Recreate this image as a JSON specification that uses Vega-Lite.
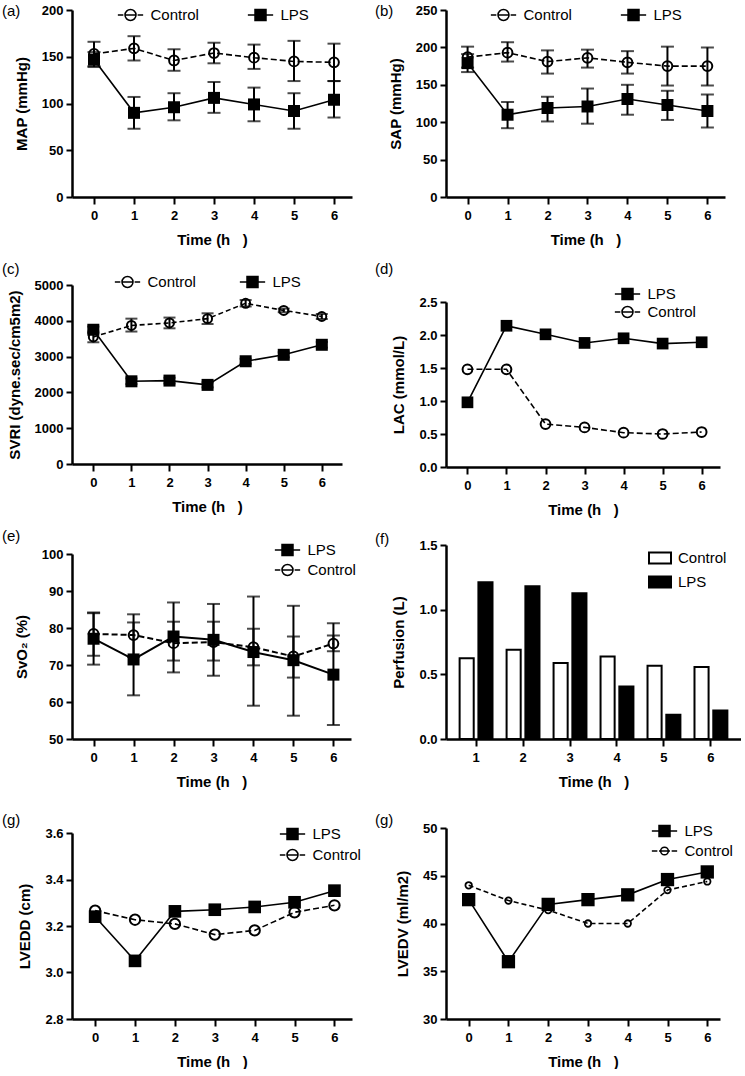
{
  "$schema": "https://vega.github.io/schema/vega-lite/v6.json",
  "padding": {"left": 2, "top": 4, "right": 0, "bottom": 0},
  "background": "white",
  "config": {
    "font": "Liberation Sans",
    "view": {"stroke": null},
    "axis": {"domainColor": "black", "domainWidth": 2.5, "tickColor": "black", "tickWidth": 2, "tickSize": 6, "labelFont": "Liberation Sans", "labelFontSize": 13, "labelFontWeight": "bold", "labelColor": "black", "titleFont": "Liberation Sans", "titleFontSize": 15, "titleFontWeight": "bold", "titleColor": "black", "grid": false, "labelPadding": 3, "titlePadding": 12},
    "axisX": {"labelAngle": 0, "tickSize": 7, "labelPadding": 5, "titlePadding": 10},
    "legend": {"labelFont": "Liberation Sans", "labelFontSize": 15, "labelColor": "black", "padding": 0, "symbolSize": 121, "labelOffset": 12.5, "symbolStrokeColor": "black", "symbolStrokeWidth": 1.5, "symbolOpacity": 1, "rowPadding": 3, "columnPadding": 50},
    "title": {"font": "Liberation Sans", "fontSize": 15, "fontWeight": "normal", "color": "black", "anchor": "start", "frame": "group", "offset": 0, "baseline": "alphabetic"}
  },
  "datasets": {
    "a": [
      {"t":0,"group":"Control","v":153,"lo":140,"hi":166},{"t":1,"group":"Control","v":159,"lo":146,"hi":172},{"t":2,"group":"Control","v":146,"lo":135,"hi":158},{"t":3,"group":"Control","v":154,"lo":143,"hi":165},{"t":4,"group":"Control","v":149,"lo":137,"hi":163},{"t":5,"group":"Control","v":145,"lo":124,"hi":167},{"t":6,"group":"Control","v":144,"lo":124,"hi":164},
      {"t":0,"group":"LPS","v":147,"lo":139,"hi":155},{"t":1,"group":"LPS","v":90,"lo":73,"hi":107},{"t":2,"group":"LPS","v":96,"lo":82,"hi":111},{"t":3,"group":"LPS","v":106,"lo":90,"hi":123},{"t":4,"group":"LPS","v":99,"lo":81,"hi":117},{"t":5,"group":"LPS","v":92,"lo":73,"hi":111},{"t":6,"group":"LPS","v":104,"lo":85,"hi":124}
    ],
    "b": [
      {"t":0,"group":"Control","v":187,"lo":173,"hi":201},{"t":1,"group":"Control","v":193,"lo":181,"hi":207},{"t":2,"group":"Control","v":181,"lo":165,"hi":196},{"t":3,"group":"Control","v":186,"lo":173,"hi":197},{"t":4,"group":"Control","v":180,"lo":165,"hi":195},{"t":5,"group":"Control","v":175,"lo":149,"hi":201},{"t":6,"group":"Control","v":175,"lo":149,"hi":200},
      {"t":0,"group":"LPS","v":179,"lo":167,"hi":191},{"t":1,"group":"LPS","v":110,"lo":92,"hi":127},{"t":2,"group":"LPS","v":119,"lo":101,"hi":134},{"t":3,"group":"LPS","v":121,"lo":98,"hi":145},{"t":4,"group":"LPS","v":131,"lo":110,"hi":150},{"t":5,"group":"LPS","v":123,"lo":103,"hi":142},{"t":6,"group":"LPS","v":115,"lo":93,"hi":137}
    ],
    "c": [
      {"t":0,"group":"Control","v":3550,"lo":3400,"hi":3700},{"t":1,"group":"Control","v":3870,"lo":3700,"hi":4060},{"t":2,"group":"Control","v":3940,"lo":3790,"hi":4090},{"t":3,"group":"Control","v":4060,"lo":3910,"hi":4210},{"t":4,"group":"Control","v":4490,"lo":4400,"hi":4580},{"t":5,"group":"Control","v":4290,"lo":4240,"hi":4340},{"t":6,"group":"Control","v":4120,"lo":4050,"hi":4190},
      {"t":0,"group":"LPS","v":3750,"lo":3660,"hi":3840},{"t":1,"group":"LPS","v":2310,"lo":2230,"hi":2390},{"t":2,"group":"LPS","v":2330,"lo":2250,"hi":2410},{"t":3,"group":"LPS","v":2210,"lo":2140,"hi":2280},{"t":4,"group":"LPS","v":2870,"lo":2800,"hi":2940},{"t":5,"group":"LPS","v":3050,"lo":2980,"hi":3120},{"t":6,"group":"LPS","v":3330,"lo":3250,"hi":3410}
    ],
    "d": [
      {"t":0,"group":"LPS","v":0.98},{"t":1,"group":"LPS","v":2.14},{"t":2,"group":"LPS","v":2.01},{"t":3,"group":"LPS","v":1.88},{"t":4,"group":"LPS","v":1.95},{"t":5,"group":"LPS","v":1.87},{"t":6,"group":"LPS","v":1.89},
      {"t":0,"group":"Control","v":1.48},{"t":1,"group":"Control","v":1.48},{"t":2,"group":"Control","v":0.65},{"t":3,"group":"Control","v":0.6},{"t":4,"group":"Control","v":0.52},{"t":5,"group":"Control","v":0.5},{"t":6,"group":"Control","v":0.53}
    ],
    "e": [
      {"t":0,"group":"LPS","v":77.1,"lo":70.1,"hi":84.2},{"t":1,"group":"LPS","v":71.5,"lo":61.8,"hi":81.5},{"t":2,"group":"LPS","v":77.7,"lo":68,"hi":86.9},{"t":3,"group":"LPS","v":76.8,"lo":67.1,"hi":86.5},{"t":4,"group":"LPS","v":73.5,"lo":59,"hi":88.5},{"t":5,"group":"LPS","v":71.3,"lo":56.3,"hi":86},{"t":6,"group":"LPS","v":67.4,"lo":53.8,"hi":81.3},
      {"t":0,"group":"Control","v":78.4,"lo":72.5,"hi":84},{"t":1,"group":"Control","v":78.1,"lo":72.2,"hi":83.7},{"t":2,"group":"Control","v":75.9,"lo":71.2,"hi":81.7},{"t":3,"group":"Control","v":76.2,"lo":71.2,"hi":81.7},{"t":4,"group":"Control","v":74.8,"lo":69.9,"hi":79.8},{"t":5,"group":"Control","v":72.3,"lo":66.6,"hi":77.7},{"t":6,"group":"Control","v":75.8,"lo":73.7,"hi":78}
    ],
    "f": [
      {"t":1,"group":"Control","v":0.625},{"t":2,"group":"Control","v":0.69},{"t":3,"group":"Control","v":0.587},{"t":4,"group":"Control","v":0.638},{"t":5,"group":"Control","v":0.566},{"t":6,"group":"Control","v":0.556},
      {"t":1,"group":"LPS","v":1.212},{"t":2,"group":"LPS","v":1.181},{"t":3,"group":"LPS","v":1.127},{"t":4,"group":"LPS","v":0.406},{"t":5,"group":"LPS","v":0.188},{"t":6,"group":"LPS","v":0.221}
    ],
    "g1": [
      {"t":0,"group":"LPS","v":3.24},{"t":1,"group":"LPS","v":3.05},{"t":2,"group":"LPS","v":3.263},{"t":3,"group":"LPS","v":3.27},{"t":4,"group":"LPS","v":3.282},{"t":5,"group":"LPS","v":3.302},{"t":6,"group":"LPS","v":3.352},
      {"t":0,"group":"Control","v":3.266},{"t":1,"group":"Control","v":3.227},{"t":2,"group":"Control","v":3.209},{"t":3,"group":"Control","v":3.163},{"t":4,"group":"Control","v":3.181},{"t":5,"group":"Control","v":3.259},{"t":6,"group":"Control","v":3.289}
    ],
    "g2": [
      {"t":0,"group":"LPS","v":42.5},{"t":1,"group":"LPS","v":36.0},{"t":2,"group":"LPS","v":42.0},{"t":3,"group":"LPS","v":42.5},{"t":4,"group":"LPS","v":43.0},{"t":5,"group":"LPS","v":44.6},{"t":6,"group":"LPS","v":45.4},
      {"t":0,"group":"Control","v":44.0},{"t":1,"group":"Control","v":42.4},{"t":2,"group":"Control","v":41.4},{"t":3,"group":"Control","v":40.0},{"t":4,"group":"Control","v":40.0},{"t":5,"group":"Control","v":43.5},{"t":6,"group":"Control","v":44.4}
    ]
  },
  "resolve": {"scale": {"shape": "independent", "fill": "independent"}},
  "hconcat": [
    {
      "spacing": 24,
      "resolve": {"scale": {"shape": "independent", "fill": "independent"}},
      "vconcat": [
        {
          "spacing": 15,
          "resolve": {"scale": {"shape": "independent", "fill": "independent"}},
          "vconcat": [
            {
              "width": 280, "height": 187,
              "title": {"text": "(a)", "dx": -70, "dy": 19},
              "data": {"name": "a"},
              "encoding": {
                "x": {"field": "t", "type": "quantitative", "scale": {"domain": [-0.55, 6.45], "nice": false, "zero": false}, "axis": {"values": [0,1,2,3,4,5,6], "format": "d", "title": "Time (h\u00a0\u00a0\u00a0)"}},
                "y": {"field": "v", "type": "quantitative", "scale": {"domain": [0, 200], "nice": false, "zero": false}, "axis": {"values": [0,50,100,150,200], "title": "MAP (mmHg)"}}
              },
              "layer": [
                {"mark": {"type": "errorbar", "ticks": {"size": 13}, "thickness": 2, "color": "black"}, "encoding": {"y": {"field": "lo", "type": "quantitative", "title": "MAP (mmHg)"}, "y2": {"field": "hi"}}},
                {"transform": [{"filter": "datum.group === 'Control'"}], "mark": {"type": "line", "color": "black", "strokeWidth": 1.6, "strokeDash": [6, 3]}, "encoding": {}},
                {"transform": [{"filter": "datum.group === 'LPS'"}], "mark": {"type": "line", "color": "black", "strokeWidth": 1.6}, "encoding": {}},
                {"transform": [{"filter": "datum.group === 'Control'"}], "mark": {"type": "point", "shape": "circle", "filled": false, "color": "black", "strokeWidth": 2, "size": 95, "opacity": 1}},
                {"transform": [{"filter": "datum.group === 'LPS'"}], "mark": {"type": "point", "shape": "square", "filled": true, "color": "black", "size": 144, "opacity": 1}},
                {"mark": {"type": "point", "filled": true, "opacity": 0, "stroke": "black", "size": 121},
                 "encoding": {
                   "shape": {"field": "group", "type": "nominal", "scale": {"domain": ["Control", "LPS"], "range": ["M-2.3,0H-1.3M-1,0H1M1.3,0H2.3M-1,0A1,1 0 1 1 1,0A1,1 0 1 1 -1,0", "M-2.3,0H2.3M-1,-1H1V1H-1Z"]}, "legend": {"title": null, "orient": "none", "direction": "horizontal", "legendX": 51, "legendY": -2.5, "columnPadding": 45, "encode": {"symbols": {"update": {"stroke": {"value": "black"}, "strokeWidth": {"value": 1.5}}}}}},
                   "fill": {"field": "group", "type": "nominal", "scale": {"domain": ["Control", "LPS"], "range": ["transparent", "black"]}, "legend": {"title": null, "orient": "none", "direction": "horizontal", "legendX": 51, "legendY": -2.5, "columnPadding": 45, "encode": {"symbols": {"update": {"stroke": {"value": "black"}, "strokeWidth": {"value": 1.5}}}}}}
                 }}
              ]
            },
            {
              "width": 270, "height": 179,
              "title": {"text": "(c)", "dx": -70, "dy": 6.5},
              "data": {"name": "c"},
              "encoding": {
                "x": {"field": "t", "type": "quantitative", "scale": {"domain": [-0.56, 6.53], "nice": false, "zero": false}, "axis": {"values": [0,1,2,3,4,5,6], "format": "d", "title": "Time (h\u00a0\u00a0\u00a0)"}},
                "y": {"field": "v", "type": "quantitative", "scale": {"domain": [0, 5000], "nice": false, "zero": false}, "axis": {"values": [0,1000,2000,3000,4000,5000], "format": "d", "title": "SVRI (dyne.sec/cm5m2)"}}
              },
              "layer": [
                {"mark": {"type": "errorbar", "ticks": {"size": 12}, "thickness": 2, "color": "black"}, "encoding": {"y": {"field": "lo", "type": "quantitative", "title": "SVRI (dyne.sec/cm5m2)"}, "y2": {"field": "hi"}}},
                {"transform": [{"filter": "datum.group === 'Control'"}], "mark": {"type": "line", "color": "black", "strokeWidth": 1.6, "strokeDash": [5, 3]}, "encoding": {}},
                {"transform": [{"filter": "datum.group === 'LPS'"}], "mark": {"type": "line", "color": "black", "strokeWidth": 1.6}, "encoding": {}},
                {"transform": [{"filter": "datum.group === 'Control'"}], "mark": {"type": "point", "shape": "circle", "filled": false, "color": "black", "strokeWidth": 2, "size": 80, "opacity": 1}},
                {"transform": [{"filter": "datum.group === 'LPS'"}], "mark": {"type": "point", "shape": "square", "filled": true, "color": "black", "size": 144, "opacity": 1}},
                {"mark": {"type": "point", "filled": true, "opacity": 0, "stroke": "black", "size": 121},
                 "encoding": {
                   "shape": {"field": "group", "type": "nominal", "scale": {"domain": ["Control", "LPS"], "range": ["M-2.3,0H-1.3M-1,0H1M1.3,0H2.3M-1,0A1,1 0 1 1 1,0A1,1 0 1 1 -1,0", "M-2.3,0H2.3M-1,-1H1V1H-1Z"]}, "legend": {"title": null, "orient": "none", "direction": "horizontal", "legendX": 48, "legendY": -10.5, "columnPadding": 40, "encode": {"symbols": {"update": {"stroke": {"value": "black"}, "strokeWidth": {"value": 1.5}}}}}},
                   "fill": {"field": "group", "type": "nominal", "scale": {"domain": ["Control", "LPS"], "range": ["transparent", "black"]}, "legend": {"title": null, "orient": "none", "direction": "horizontal", "legendX": 48, "legendY": -10.5, "columnPadding": 40, "encode": {"symbols": {"update": {"stroke": {"value": "black"}, "strokeWidth": {"value": 1.5}}}}}}
                 }}
              ]
            },
            {
              "width": 279, "height": 185,
              "title": {"text": "(e)", "dx": -70, "dy": 5.5},
              "data": {"name": "e"},
              "encoding": {
                "x": {"field": "t", "type": "quantitative", "scale": {"domain": [-0.54, 6.44], "nice": false, "zero": false}, "axis": {"values": [0,1,2,3,4,5,6], "format": "d", "title": "Time (h\u00a0\u00a0\u00a0)"}},
                "y": {"field": "v", "type": "quantitative", "scale": {"domain": [50, 100], "nice": false, "zero": false}, "axis": {"values": [50,60,70,80,90,100], "title": "SvO₂ (%)"}}
              },
              "layer": [
                {"mark": {"type": "errorbar", "ticks": {"size": 13}, "thickness": 2, "color": "black"}, "encoding": {"y": {"field": "lo", "type": "quantitative", "title": "SvO₂ (%)"}, "y2": {"field": "hi"}}},
                {"transform": [{"filter": "datum.group === 'Control'"}], "mark": {"type": "line", "color": "black", "strokeWidth": 2, "strokeDash": [6, 3]}, "encoding": {}},
                {"transform": [{"filter": "datum.group === 'LPS'"}], "mark": {"type": "line", "color": "black", "strokeWidth": 2}, "encoding": {}},
                {"transform": [{"filter": "datum.group === 'Control'"}], "mark": {"type": "point", "shape": "circle", "filled": false, "color": "black", "strokeWidth": 2, "size": 95, "opacity": 1}},
                {"transform": [{"filter": "datum.group === 'LPS'"}], "mark": {"type": "point", "shape": "square", "filled": true, "color": "black", "size": 144, "opacity": 1}},
                {"mark": {"type": "point", "filled": true, "opacity": 0, "stroke": "black", "size": 121},
                 "encoding": {
                   "shape": {"field": "group", "type": "nominal", "scale": {"domain": ["LPS", "Control"], "range": ["M-2.3,0H2.3M-1,-1H1V1H-1Z", "M-2.3,0H-1.3M-1,0H1M1.3,0H2.3M-1,0A1,1 0 1 1 1,0A1,1 0 1 1 -1,0"]}, "legend": {"title": null, "orient": "none", "direction": "vertical", "legendX": 208, "legendY": -11.5, "rowPadding": 3, "encode": {"symbols": {"update": {"stroke": {"value": "black"}, "strokeWidth": {"value": 1.5}}}}}},
                   "fill": {"field": "group", "type": "nominal", "scale": {"domain": ["LPS", "Control"], "range": ["black", "transparent"]}, "legend": {"title": null, "orient": "none", "direction": "vertical", "legendX": 208, "legendY": -11.5, "rowPadding": 3, "encode": {"symbols": {"update": {"stroke": {"value": "black"}, "strokeWidth": {"value": 1.5}}}}}}
                 }}
              ]
            }
          ]
        },
        {
          "width": 280, "height": 186,
          "title": {"text": "(g)", "dx": -70, "dy": 5.5},
          "data": {"name": "g1"},
          "encoding": {
            "x": {"field": "t", "type": "quantitative", "scale": {"domain": [-0.58, 6.44], "nice": false, "zero": false}, "axis": {"values": [0,1,2,3,4,5,6], "format": "d", "title": "Time (h\u00a0\u00a0\u00a0)"}},
            "y": {"field": "v", "type": "quantitative", "scale": {"domain": [2.8, 3.6], "nice": false, "zero": false}, "axis": {"values": [2.8,3.0,3.2,3.4,3.6], "format": ".1f", "title": "LVEDD (cm)"}}
          },
          "layer": [
            {"transform": [{"filter": "datum.group === 'Control'"}], "mark": {"type": "line", "color": "black", "strokeWidth": 1.6, "strokeDash": [6, 3]}, "encoding": {}},
            {"transform": [{"filter": "datum.group === 'LPS'"}], "mark": {"type": "line", "color": "black", "strokeWidth": 1.6}, "encoding": {}},
            {"transform": [{"filter": "datum.group === 'Control'"}], "mark": {"type": "point", "shape": "circle", "filled": false, "color": "black", "strokeWidth": 2, "size": 107, "opacity": 1}},
            {"transform": [{"filter": "datum.group === 'LPS'"}], "mark": {"type": "point", "shape": "square", "filled": true, "color": "black", "size": 160, "opacity": 1}},
            {"mark": {"type": "point", "filled": true, "opacity": 0, "stroke": "black", "size": 121},
             "encoding": {
               "shape": {"field": "group", "type": "nominal", "scale": {"domain": ["LPS", "Control"], "range": ["M-2.3,0H2.3M-1,-1H1V1H-1Z", "M-2.3,0H-1.3M-1,0H1M1.3,0H2.3M-1,0A1,1 0 1 1 1,0A1,1 0 1 1 -1,0"]}, "legend": {"title": null, "orient": "none", "direction": "vertical", "legendX": 213, "legendY": -6.5, "rowPadding": 4, "encode": {"symbols": {"update": {"stroke": {"value": "black"}, "strokeWidth": {"value": 1.5}}}}}},
               "fill": {"field": "group", "type": "nominal", "scale": {"domain": ["LPS", "Control"], "range": ["black", "transparent"]}, "legend": {"title": null, "orient": "none", "direction": "vertical", "legendX": 213, "legendY": -6.5, "rowPadding": 4, "encode": {"symbols": {"update": {"stroke": {"value": "black"}, "strokeWidth": {"value": 1.5}}}}}}
             }}
          ]
        }
      ]
    },
    {
      "spacing": 24,
      "resolve": {"scale": {"shape": "independent", "fill": "independent"}},
      "vconcat": [
        {
          "spacing": 15,
          "resolve": {"scale": {"shape": "independent", "fill": "independent"}},
          "vconcat": [
            {
              "width": 279, "height": 187,
              "title": {"text": "(b)", "dx": -71, "dy": 19},
              "data": {"name": "b"},
              "encoding": {
                "x": {"field": "t", "type": "quantitative", "scale": {"domain": [-0.54, 6.44], "nice": false, "zero": false}, "axis": {"values": [0,1,2,3,4,5,6], "format": "d", "title": "Time (h\u00a0\u00a0\u00a0)"}},
                "y": {"field": "v", "type": "quantitative", "scale": {"domain": [0, 250], "nice": false, "zero": false}, "axis": {"values": [0,50,100,150,200,250], "title": "SAP (mmHg)"}}
              },
              "layer": [
                {"mark": {"type": "errorbar", "ticks": {"size": 13}, "thickness": 2, "color": "black"}, "encoding": {"y": {"field": "lo", "type": "quantitative", "title": "SAP (mmHg)"}, "y2": {"field": "hi"}}},
                {"transform": [{"filter": "datum.group === 'Control'"}], "mark": {"type": "line", "color": "black", "strokeWidth": 1.6, "strokeDash": [6, 3]}, "encoding": {}},
                {"transform": [{"filter": "datum.group === 'LPS'"}], "mark": {"type": "line", "color": "black", "strokeWidth": 1.6}, "encoding": {}},
                {"transform": [{"filter": "datum.group === 'Control'"}], "mark": {"type": "point", "shape": "circle", "filled": false, "color": "black", "strokeWidth": 2, "size": 95, "opacity": 1}},
                {"transform": [{"filter": "datum.group === 'LPS'"}], "mark": {"type": "point", "shape": "square", "filled": true, "color": "black", "size": 144, "opacity": 1}},
                {"mark": {"type": "point", "filled": true, "opacity": 0, "stroke": "black", "size": 121},
                 "encoding": {
                   "shape": {"field": "group", "type": "nominal", "scale": {"domain": ["Control", "LPS"], "range": ["M-2.3,0H-1.3M-1,0H1M1.3,0H2.3M-1,0A1,1 0 1 1 1,0A1,1 0 1 1 -1,0", "M-2.3,0H2.3M-1,-1H1V1H-1Z"]}, "legend": {"title": null, "orient": "none", "direction": "horizontal", "legendX": 50, "legendY": -2.5, "columnPadding": 45, "encode": {"symbols": {"update": {"stroke": {"value": "black"}, "strokeWidth": {"value": 1.5}}}}}},
                   "fill": {"field": "group", "type": "nominal", "scale": {"domain": ["Control", "LPS"], "range": ["transparent", "black"]}, "legend": {"title": null, "orient": "none", "direction": "horizontal", "legendX": 50, "legendY": -2.5, "columnPadding": 45, "encode": {"symbols": {"update": {"stroke": {"value": "black"}, "strokeWidth": {"value": 1.5}}}}}}
                 }}
              ]
            },
            {
              "width": 274, "height": 165,
              "title": {"text": "(d)", "dx": -71, "dy": -5.5},
              "data": {"name": "d"},
              "encoding": {
                "x": {"field": "t", "type": "quantitative", "scale": {"domain": [-0.55, 6.47], "nice": false, "zero": false}, "axis": {"values": [0,1,2,3,4,5,6], "format": "d", "title": "Time (h\u00a0\u00a0\u00a0)"}},
                "y": {"field": "v", "type": "quantitative", "scale": {"domain": [0, 2.5], "nice": false, "zero": false}, "axis": {"values": [0,0.5,1,1.5,2,2.5], "format": ".1f", "title": "LAC (mmol/L)"}}
              },
              "layer": [
                {"transform": [{"filter": "datum.group === 'Control'"}], "mark": {"type": "line", "color": "black", "strokeWidth": 1.6, "strokeDash": [6, 3]}, "encoding": {}},
                {"transform": [{"filter": "datum.group === 'LPS'"}], "mark": {"type": "line", "color": "black", "strokeWidth": 1.6}, "encoding": {}},
                {"transform": [{"filter": "datum.group === 'Control'"}], "mark": {"type": "point", "shape": "circle", "filled": false, "color": "black", "strokeWidth": 2, "size": 95, "opacity": 1}},
                {"transform": [{"filter": "datum.group === 'LPS'"}], "mark": {"type": "point", "shape": "square", "filled": true, "color": "black", "size": 137, "opacity": 1}},
                {"mark": {"type": "point", "filled": true, "opacity": 0, "stroke": "black", "size": 121},
                 "encoding": {
                   "shape": {"field": "group", "type": "nominal", "scale": {"domain": ["LPS", "Control"], "range": ["M-2.3,0H2.3M-1,-1H1V1H-1Z", "M-2.3,0H-1.3M-1,0H1M1.3,0H2.3M-1,0A1,1 0 1 1 1,0A1,1 0 1 1 -1,0"]}, "legend": {"title": null, "orient": "none", "direction": "vertical", "legendX": 174, "legendY": -15.5, "rowPadding": 1, "encode": {"symbols": {"update": {"stroke": {"value": "black"}, "strokeWidth": {"value": 1.5}}}}}},
                   "fill": {"field": "group", "type": "nominal", "scale": {"domain": ["LPS", "Control"], "range": ["black", "transparent"]}, "legend": {"title": null, "orient": "none", "direction": "vertical", "legendX": 174, "legendY": -15.5, "rowPadding": 1, "encode": {"symbols": {"update": {"stroke": {"value": "black"}, "strokeWidth": {"value": 1.5}}}}}}
                 }}
              ]
            },
            {
              "width": 295, "height": 194,
              "title": {"text": "(f)", "dx": -71, "dy": 12},
              "data": {"name": "f"},
              "mark": {"type": "bar", "stroke": "black", "strokeWidth": 2},
              "encoding": {
                "x": {"field": "t", "type": "ordinal", "scale": {"paddingInner": 0.3, "paddingOuter": 0.29}, "axis": {"title": "Time (h\u00a0\u00a0\u00a0)", "labelAngle": 0, "bandPosition": 0.5}},
                "xOffset": {"field": "group", "type": "nominal", "scale": {"domain": ["Control", "LPS"], "paddingInner": 0.25}},
                "y": {"field": "v", "type": "quantitative", "scale": {"domain": [0, 1.5], "nice": false, "zero": false}, "axis": {"values": [0,0.5,1,1.5], "format": ".1f", "title": "Perfusion (L)"}},
                "fill": {"field": "group", "type": "nominal", "scale": {"domain": ["Control", "LPS"], "range": ["white", "black"]}, "legend": {"title": null, "orient": "none", "direction": "vertical", "legendX": 202, "legendY": 1, "rowPadding": 2, "symbolType": "M-1,-0.5H1V0.5H-1Z", "symbolSize": 484, "symbolStrokeWidth": 2, "labelOffset": 6}}
              }
            }
          ]
        },
        {
          "width": 274, "height": 191,
          "title": {"text": "(g)", "dx": -71, "dy": 10},
          "data": {"name": "g2"},
          "encoding": {
            "x": {"field": "t", "type": "quantitative", "scale": {"domain": [-0.57, 6.32], "nice": false, "zero": false}, "axis": {"values": [0,1,2,3,4,5,6], "format": "d", "title": "Time (h\u00a0\u00a0\u00a0)"}},
            "y": {"field": "v", "type": "quantitative", "scale": {"domain": [30, 50], "nice": false, "zero": false}, "axis": {"values": [30,35,40,45,50], "title": "LVEDV (ml/m2)"}}
          },
          "layer": [
            {"transform": [{"filter": "datum.group === 'Control'"}], "mark": {"type": "line", "color": "black", "strokeWidth": 1.6, "strokeDash": [5, 3]}, "encoding": {}},
            {"transform": [{"filter": "datum.group === 'LPS'"}], "mark": {"type": "line", "color": "black", "strokeWidth": 1.6}, "encoding": {}},
            {"transform": [{"filter": "datum.group === 'Control'"}], "mark": {"type": "point", "shape": "circle", "filled": false, "color": "black", "strokeWidth": 1.8, "size": 42, "opacity": 1}},
            {"transform": [{"filter": "datum.group === 'LPS'"}], "mark": {"type": "point", "shape": "square", "filled": true, "color": "black", "size": 177, "opacity": 1}},
            {"mark": {"type": "point", "filled": true, "opacity": 0, "stroke": "black", "size": 121},
             "encoding": {
               "shape": {"field": "group", "type": "nominal", "scale": {"domain": ["LPS", "Control"], "range": ["M-2.3,0H2.3M-1,-1H1V1H-1Z", "M-2.3,0H-1.3M-1,0H1M1.3,0H2.3M-0.7,0A0.7,0.7 0 1 1 0.7,0A0.7,0.7 0 1 1 -0.7,0"]}, "legend": {"title": null, "orient": "none", "direction": "vertical", "legendX": 211, "legendY": -4.5, "rowPadding": 4, "encode": {"symbols": {"update": {"stroke": {"value": "black"}, "strokeWidth": {"value": 1.5}}}}}},
               "fill": {"field": "group", "type": "nominal", "scale": {"domain": ["LPS", "Control"], "range": ["black", "transparent"]}, "legend": {"title": null, "orient": "none", "direction": "vertical", "legendX": 211, "legendY": -4.5, "rowPadding": 4, "encode": {"symbols": {"update": {"stroke": {"value": "black"}, "strokeWidth": {"value": 1.5}}}}}}
             }}
          ]
        }
      ]
    }
  ],
  "spacing": 14
}
